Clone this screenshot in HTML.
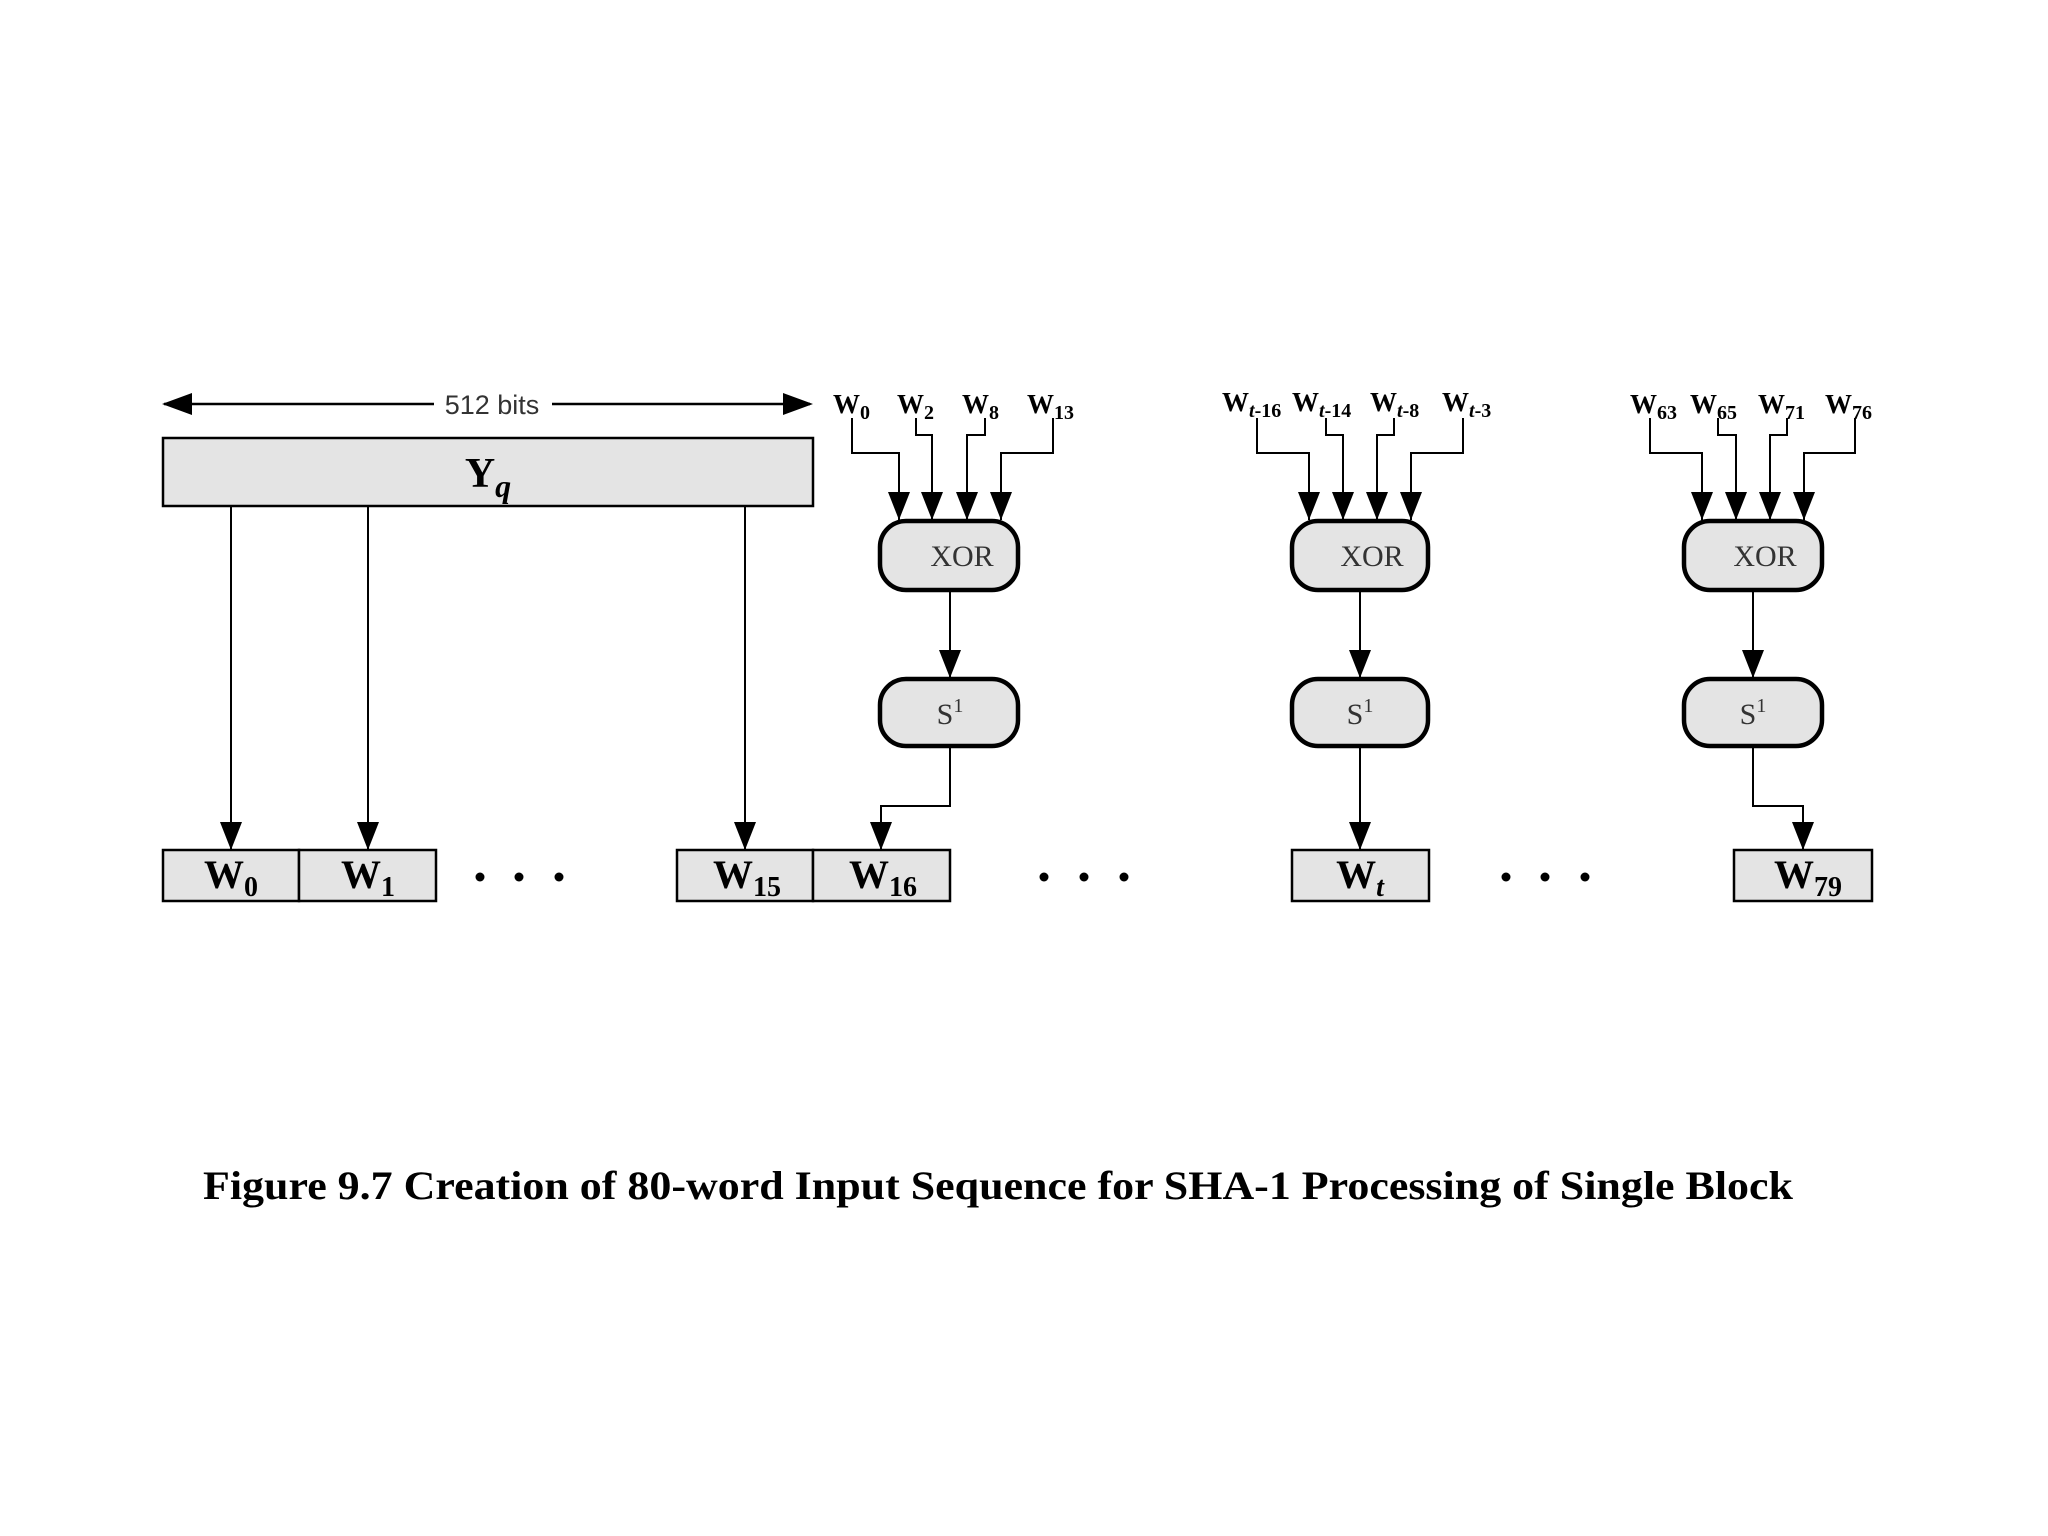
<!DOCTYPE html>
<html><head><meta charset="utf-8"><style>
html,body{margin:0;padding:0;background:#fff;}
svg{display:block;}
.s{font-family:"Liberation Serif",serif;}
</style></head><body>
<svg width="2048" height="1536" viewBox="0 0 2048 1536" xmlns="http://www.w3.org/2000/svg">
<defs>
<marker id="a" markerUnits="userSpaceOnUse" markerWidth="28" markerHeight="22" refX="28" refY="11" orient="auto" viewBox="0 0 28 22">
<path d="M0,0 L28,11 L0,22 Z" fill="#000"/>
</marker>
</defs>
<rect width="2048" height="1536" fill="#fff"/>
<g stroke="#000" fill="none" stroke-width="2.5">
<line x1="164" y1="404" x2="810" y2="404"/>
</g>
<path d="M162,404 L192,393 L192,415 Z" fill="#000"/>
<path d="M813,404 L783,393 L783,415 Z" fill="#000"/>
<rect x="434" y="388" width="118" height="30" fill="#fff"/>
<text x="492" y="414" text-anchor="middle" font-family="Liberation Sans, sans-serif" font-size="27" fill="#333">512 bits</text>

<rect x="163" y="438" width="650" height="68" fill="#e4e4e4" stroke="#000" stroke-width="2.5"/>
<text x="488" y="487" class="s" font-size="42" font-weight="bold" text-anchor="middle">Y<tspan font-style="italic" font-size="32" dy="10">q</tspan></text>

<g stroke="#000" fill="none" stroke-width="2">
<line x1="231" y1="506" x2="231" y2="850" marker-end="url(#a)"/>
<line x1="368" y1="506" x2="368" y2="850" marker-end="url(#a)"/>
<line x1="745" y1="506" x2="745" y2="850" marker-end="url(#a)"/>
<polyline points="852,418 852,453 899,453 899,520" marker-end="url(#a)"/>
<polyline points="916,418 916,435 932,435 932,520" marker-end="url(#a)"/>
<polyline points="985,418 985,435 967,435 967,520" marker-end="url(#a)"/>
<polyline points="1053,418 1053,453 1001,453 1001,520" marker-end="url(#a)"/>
<line x1="950" y1="590" x2="950" y2="678" marker-end="url(#a)"/>
<polyline points="950,746 950,806 881,806 881,850" marker-end="url(#a)"/>
<polyline points="1257,418 1257,453 1309,453 1309,520" marker-end="url(#a)"/>
<polyline points="1326,418 1326,435 1343,435 1343,520" marker-end="url(#a)"/>
<polyline points="1394,418 1394,435 1377,435 1377,520" marker-end="url(#a)"/>
<polyline points="1463,418 1463,453 1411,453 1411,520" marker-end="url(#a)"/>
<line x1="1360" y1="590" x2="1360" y2="678" marker-end="url(#a)"/>
<line x1="1360" y1="746" x2="1360" y2="850" marker-end="url(#a)"/>
<polyline points="1650,418 1650,453 1702,453 1702,520" marker-end="url(#a)"/>
<polyline points="1718,418 1718,435 1736,435 1736,520" marker-end="url(#a)"/>
<polyline points="1787,418 1787,435 1770,435 1770,520" marker-end="url(#a)"/>
<polyline points="1855,418 1855,453 1804,453 1804,520" marker-end="url(#a)"/>
<line x1="1753" y1="590" x2="1753" y2="678" marker-end="url(#a)"/>
<polyline points="1753,746 1753,806 1803,806 1803,850" marker-end="url(#a)"/>
</g>

<g fill="#e4e4e4" stroke="#000" stroke-width="4.5">
<rect x="880" y="521" width="138" height="69" rx="26"/>
<rect x="880" y="679" width="138" height="67" rx="26"/>
<rect x="1292" y="521" width="136" height="69" rx="26"/>
<rect x="1292" y="679" width="136" height="67" rx="26"/>
<rect x="1684" y="521" width="138" height="69" rx="26"/>
<rect x="1684" y="679" width="138" height="67" rx="26"/>
</g>
<g class="s" font-size="30" fill="#333" text-anchor="middle">
<text x="962" y="566">XOR</text>
<text x="1372" y="566">XOR</text>
<text x="1765" y="566">XOR</text>
<text x="950" y="724">S<tspan font-size="20" dy="-12">1</tspan></text>
<text x="1360" y="724">S<tspan font-size="20" dy="-12">1</tspan></text>
<text x="1753" y="724">S<tspan font-size="20" dy="-12">1</tspan></text>
</g>

<g class="s" font-size="27" font-weight="bold">
<text x="833" y="413">W<tspan font-size="20" dy="6">0</tspan></text>
<text x="897" y="413">W<tspan font-size="20" dy="6">2</tspan></text>
<text x="962" y="413">W<tspan font-size="20" dy="6">8</tspan></text>
<text x="1027" y="413">W<tspan font-size="20" dy="6">13</tspan></text>
<text x="1222" y="411">W<tspan font-size="20" dy="6"><tspan font-style="italic">t</tspan>-16</tspan></text>
<text x="1292" y="411">W<tspan font-size="20" dy="6"><tspan font-style="italic">t</tspan>-14</tspan></text>
<text x="1370" y="411">W<tspan font-size="20" dy="6"><tspan font-style="italic">t</tspan>-8</tspan></text>
<text x="1442" y="411">W<tspan font-size="20" dy="6"><tspan font-style="italic">t</tspan>-3</tspan></text>
<text x="1630" y="413">W<tspan font-size="20" dy="6">63</tspan></text>
<text x="1690" y="413">W<tspan font-size="20" dy="6">65</tspan></text>
<text x="1758" y="413">W<tspan font-size="20" dy="6">71</tspan></text>
<text x="1825" y="413">W<tspan font-size="20" dy="6">76</tspan></text>
</g>

<g fill="#e4e4e4" stroke="#000" stroke-width="2.5">
<rect x="163" y="850" width="136" height="51"/>
<rect x="299" y="850" width="137" height="51"/>
<rect x="677" y="850" width="136" height="51"/>
<rect x="813" y="850" width="137" height="51"/>
<rect x="1292" y="850" width="137" height="51"/>
<rect x="1734" y="850" width="138" height="51"/>
</g>
<g class="s" font-size="40" font-weight="bold" text-anchor="middle">
<text x="231" y="888">W<tspan font-size="28" dy="8">0</tspan></text>
<text x="368" y="888">W<tspan font-size="28" dy="8">1</tspan></text>
<text x="747" y="888">W<tspan font-size="28" dy="8">15</tspan></text>
<text x="883" y="888">W<tspan font-size="28" dy="8">16</tspan></text>
<text x="1360" y="888">W<tspan font-size="28" dy="8" font-style="italic">t</tspan></text>
<text x="1808" y="888">W<tspan font-size="28" dy="8">79</tspan></text>
</g>
<g fill="#000">
<circle cx="480" cy="877" r="4.5"/><circle cx="519" cy="877" r="4.5"/><circle cx="559" cy="877" r="4.5"/>
<circle cx="1044" cy="877" r="4.5"/><circle cx="1084" cy="877" r="4.5"/><circle cx="1124" cy="877" r="4.5"/>
<circle cx="1506" cy="877" r="4.5"/><circle cx="1545" cy="877" r="4.5"/><circle cx="1585" cy="877" r="4.5"/>
</g>

<text x="203" y="1199" class="s" font-size="40" font-weight="bold" textLength="1590" lengthAdjust="spacingAndGlyphs">Figure 9.7   Creation of 80-word Input Sequence for SHA-1 Processing of Single Block</text>
</svg>
</body></html>
